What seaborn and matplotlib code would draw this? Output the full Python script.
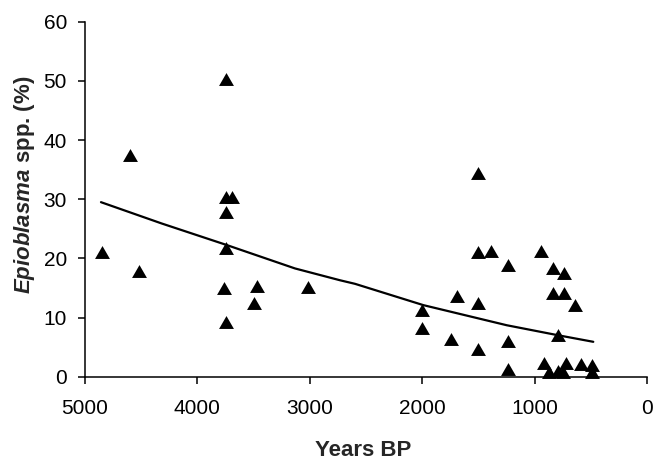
import matplotlib
matplotlib.use("Agg")
import matplotlib.pyplot as plt
import pandas as pd
import seaborn as sns

# Epioblasma share per sample (years before present, %)
years_bp = [4850, 4600, 4520, 3750, 3750, 3690, 3750, 3750, 3760, 3470,
            3500, 3750, 3020, 1500, 1500, 1390, 1240, 1690, 1500, 2000,
            2000, 1740, 1240, 1500, 1240, 940, 840, 740, 840, 740,
            640, 790, 920, 870, 790, 720, 745, 590, 485, 485]
epioblasma_pct = [21.0, 37.5, 17.9, 50.3, 30.4, 30.4, 27.8, 21.7, 15.0, 15.3,
                  12.4, 9.2, 15.2, 34.5, 21.1, 21.2, 18.8, 13.6, 12.5, 11.2,
                  8.2, 6.4, 6.0, 4.7, 1.25, 21.3, 18.4, 17.6, 14.2, 14.2,
                  12.1, 7.0, 2.4, 0.85, 0.9, 2.3, 0.8, 2.2, 2.0, 0.75]

# trend curve
trend_years = [4858, 4318, 3746, 3132, 2731, 2598, 1990, 1248, 789, 478]
trend_pct = [29.5, 25.9, 22.3, 18.3, 16.3, 15.7, 12.1, 8.7, 7.0, 5.9]

x_ticks = [5000, 4000, 3000, 2000, 1000, 0]
y_ticks = [0, 10, 20, 30, 40, 50, 60]

sns.set_style("ticks")
plt.rcParams["font.family"] = ["Liberation Sans", "DejaVu Sans"]
plt.rcParams["mathtext.fontset"] = "custom"
plt.rcParams["mathtext.bfit"] = "Liberation Sans:italic:bold"
plt.rcParams["mathtext.bf"] = "Liberation Sans:bold"

df = pd.DataFrame({"years": years_bp, "pct": epioblasma_pct})
trend_df = pd.DataFrame({"years": trend_years, "pct": trend_pct})

fig = plt.figure(figsize=(6.55, 4.62), dpi=100)
ax = fig.add_axes([0.1298, 0.1846, 0.858, 0.7684])

sns.lineplot(data=trend_df, x="years", y="pct", color="black", lw=1.6, ax=ax)

tri = [(0, 0.866), (-1, -0.866), (1, -0.866)]
sns.scatterplot(data=df, x="years", y="pct", marker=tri, s=115, color="black",
                linewidth=0, ax=ax, zorder=3, clip_on=False)

ax.set_xlim(5000, 0)
ax.set_ylim(0, 60)
ax.set_xticks(x_ticks)
ax.set_yticks(y_ticks)
sns.despine(ax=ax)
for side in ["left", "bottom"]:
    ax.spines[side].set_color("black")
    ax.spines[side].set_linewidth(1.1)

ax.tick_params(direction="out", length=5, width=1.1, colors="black", labelsize=15)
ax.tick_params(axis="x", pad=11)
ax.tick_params(axis="y", pad=8)

ax.set_xlabel("Years BP", fontsize=16, fontweight="bold", va="center")
ax.set_ylabel(r"$\mathbfit{Epioblasma}$ spp. (%)", fontsize=16, fontweight="bold", va="center")
ax.xaxis.set_label_coords(0.495, -0.208)
ax.yaxis.set_label_coords(-0.107, 0.54)

fig.savefig("out.png", dpi=100)
plt.close(fig)
